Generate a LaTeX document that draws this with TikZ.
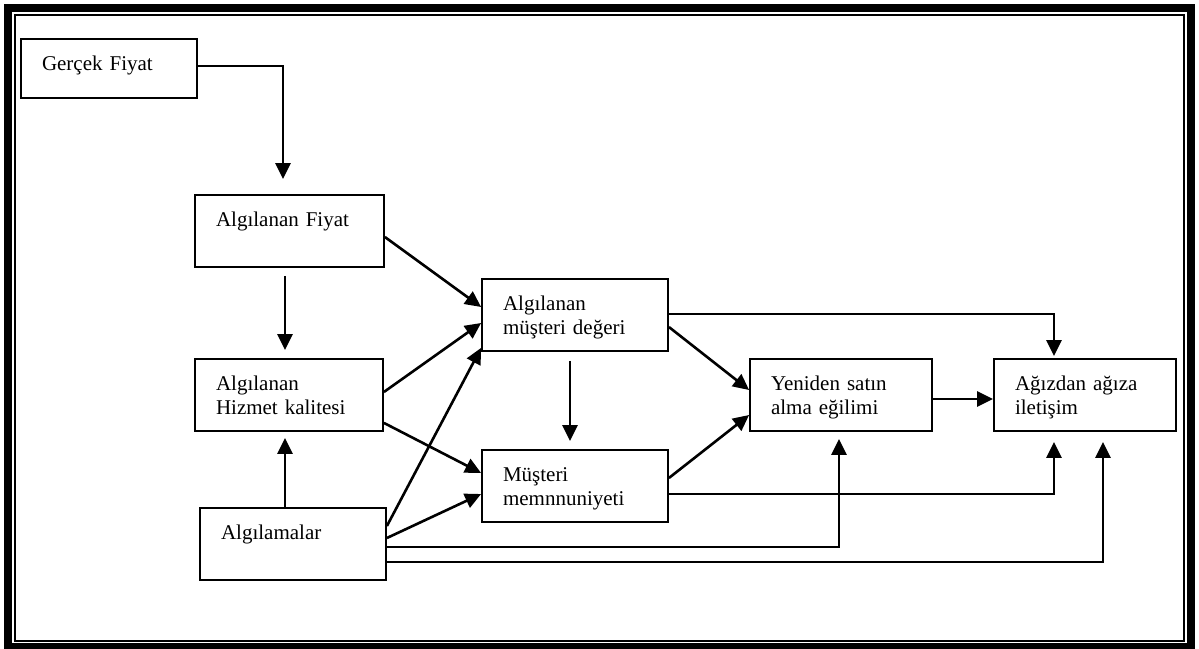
\documentclass[tikz,border=0pt]{standalone}
\usepackage{fontspec}
\setmainfont{Liberation Serif}
\usetikzlibrary{arrows.meta}

\begin{document}
\begin{tikzpicture}[x=1pt,y=-1pt,
    box/.style={draw,line width=1.8pt,inner xsep=21pt,inner ysep=0pt,align=left,
      text height=31.5pt,text depth=40.5pt,font=\fontsize{21}{24}\selectfont},
    arr/.style={-{Triangle[length=16pt,width=15pt]},line width=2.6pt}]
        \useasboundingbox (0,0) rectangle (1199,648);
        \draw[line width=8pt] (8,8) rectangle (1191,647);
        \draw[line width=1.5pt] (15,15) rectangle (1184,641);
        \node[box,text width=134pt,text depth=27pt] (gercek) at (109,68.5) {Gerçek Fiyat};
        \node[box,text width=147pt] (afiyat) at (289.5,231) {Algılanan Fiyat};
        \node[box,text width=146pt] (hizmet) at (289,395) {Algılanan\\Hizmet kalitesi};
        \node[box,text width=144pt] (algi) at (293,544) {Algılamalar};
        \node[box,text width=144pt] (deger) at (575,315) {Algılanan\\müşteri değeri};
        \node[box,text width=144pt] (memnun) at (575,486) {Müşteri\\memnnuniyeti};
        \node[box,text width=140pt] (yeniden) at (841,395) {Yeniden satın\\alma eğilimi};
        \node[box,text width=140pt] (agiz) at (1085,395) {Ağızdan ağıza\\iletişim};
        \draw[arr] ([yshift=2.5pt]gercek.east) -| ([xshift=-6.5pt,yshift=15pt]afiyat.north);
        \draw[arr] ([xshift=-4.5pt,yshift=-8pt]afiyat.south) -- ([xshift=-4pt,yshift=8pt]hizmet.north);
        \draw[arr] ([xshift=-8pt]algi.north) -- ([xshift=-4pt,yshift=-6pt]hizmet.south);
        \draw[arr] ([yshift=-6pt]afiyat.east) -- ([yshift=8pt]deger.west);
        \draw[arr] ([yshift=3pt]hizmet.east) -- ([yshift=-8pt]deger.west);
        \draw[arr] ([yshift=18pt]algi.east) -- ([yshift=4pt]deger.south west);
        \draw[arr] ([yshift=9pt]hizmet.south east) -- ([yshift=13pt]memnun.west);
        \draw[arr] ([yshift=6pt]algi.east) -- ([yshift=-8pt]memnun.west);
        \draw[arr] ([yshift=-3pt]algi.east) -| ([xshift=-2pt,yshift=-7pt]yeniden.south);
        \draw[arr] ([yshift=-18pt]algi.east) -| ([xshift=18pt,yshift=-10pt]agiz.south);
        \draw[arr] ([yshift=1pt]deger.east) -| ([xshift=-31pt,yshift=2pt]agiz.north);
        \draw[arr] ([xshift=-5pt,yshift=-9pt]deger.south) -- ([xshift=-5pt,yshift=8pt]memnun.north);
        \draw[arr] ([yshift=-12pt]deger.east) -- ([yshift=5pt]yeniden.west);
        \draw[arr] ([yshift=8pt]memnun.east) -- ([yshift=-20pt]yeniden.west);
        \draw[arr] ([yshift=-8pt]memnun.east) -| ([xshift=-31pt,yshift=-10pt]agiz.south);
        \draw[arr] ([yshift=-4pt]yeniden.east) -- ([yshift=-4pt]agiz.west);
      \end{tikzpicture}
\end{document}
